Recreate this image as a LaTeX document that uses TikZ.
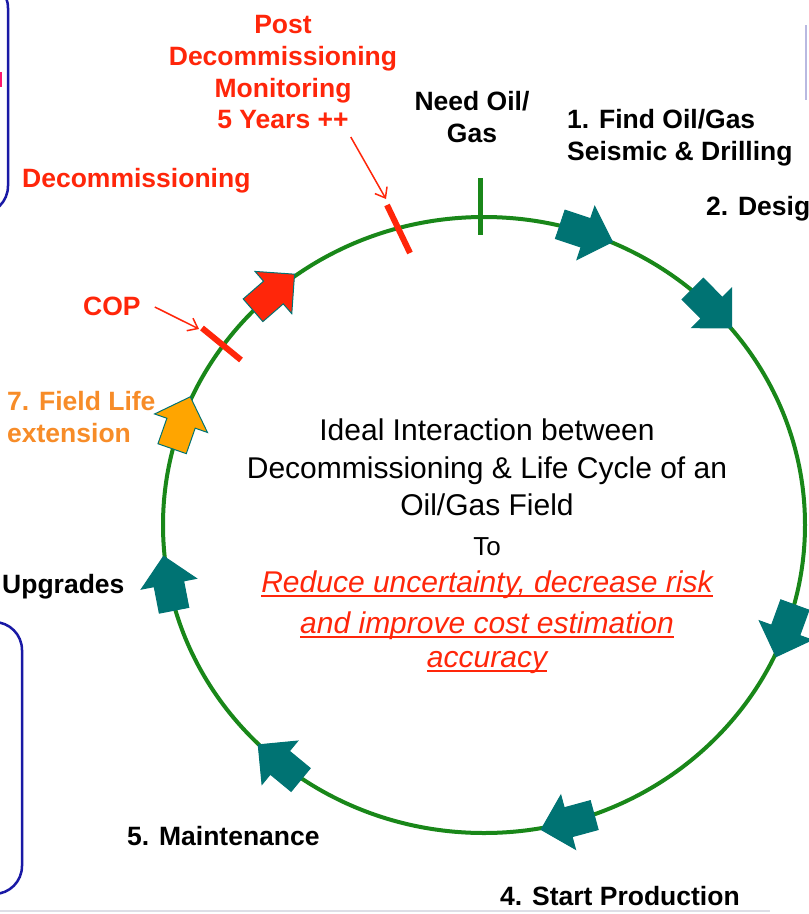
\documentclass[tikz,border=0pt]{standalone}
\usepackage{fontspec}
\setmainfont{Liberation Sans}
\usetikzlibrary{arrows.meta}
\definecolor{tealarr}{RGB}{0,115,115}
\definecolor{ringgreen}{RGB}{25,135,25}
\definecolor{hotred}{RGB}{255,38,10}
\definecolor{orangetxt}{RGB}{247,140,40}
\definecolor{orangefill}{RGB}{255,165,0}
\definecolor{navyline}{RGB}{25,25,165}
\definecolor{faintblue}{RGB}{185,185,225}
\definecolor{faintgray}{RGB}{222,222,230}
% #1 name, #2 parametric angle on the ring, #3 extra style
\newcommand\ringarrow[3]{%
  \path (C) ++(#2:321 and 308) coordinate (#1);
  \begin{scope}[shift={(#1)}, rotate=#2-90]
    \path[ringarr,#3] (-27,-15) -- (0,-15) -- (0,-28) -- (28,0) -- (0,28) -- (0,15) -- (-27,15) -- cycle;
  \end{scope}}
\begin{document}
\begin{tikzpicture}[x=1pt,y=1pt,
  lbl/.style={font=\fontsize{26.5}{32}\selectfont\bfseries, inner sep=0pt, anchor=base},
  lblw/.style={lbl, anchor=base west},
  mid/.style={font=\fontsize{30}{36}\selectfont, inner sep=0pt, anchor=base},
  goal/.style={font=\fontsize{30}{36}\selectfont\itshape, text=hotred, inner sep=0pt, anchor=base},
  uline/.style={draw=hotred, line width=1.8pt},
  ringarr/.style={fill=tealarr, draw=tealarr, line width=1pt, line join=miter},
  ptr/.style={draw=hotred, line width=1.5pt, -{Straight Barb[length=9pt,width=14pt]}},
  tickline/.style={line width=5pt},
  navybox/.style={draw=navyline, line width=2.5pt, rounded corners=28pt}]
\useasboundingbox (0,0) rectangle (809,-914);
\clip (0,0) rectangle (809,-914);
\fill[white] (0,0) rectangle (809,-914);
% partial boxes at the edges
\draw[navybox] (-60,20) rectangle (8,-214);
\draw[navybox] (-60,-622) rectangle (22,-894);
\draw[faintblue, line width=2pt] (806,-25) -- (806,-100);
\draw[faintgray, line width=2pt] (0,-911) -- (770,-911);
\fill[hotred!60!magenta] (0,-72) rectangle (2,-87);
% ring
\coordinate (C) at (484,-525);
\draw[ringgreen, line width=4pt] (C) ellipse [x radius=321, y radius=308];
% ticks
\coordinate (needA) at (480,-178);
\coordinate (needB) at (480,-235);
\draw[tickline, ringgreen] (needA) -- (needB);
\coordinate (postA) at (387,-205);
\coordinate (postB) at (410,-253);
\draw[tickline, hotred, line width=6pt] (postA) -- (postB);
\coordinate (copA) at (202,-328);
\coordinate (copB) at (241,-360);
\draw[tickline, hotred, line width=6pt] (copA) -- (copB);
% arrows on the ring
\ringarrow{a1}{71.5}{}
\ringarrow{a2}{44.8}{}
\ringarrow{a3}{-20}{}
\ringarrow{a4}{-74.8}{}
\ringarrow{a5}{-129.5}{}
\ringarrow{a6}{-169}{}
\ringarrow{a7}{160.7}{fill=orangefill}
\ringarrow{a8}{131}{fill=hotred}
% labels
\node[lbl, text=hotred] (post1) at (283,-33) {Post};
\node[lbl, text=hotred] (post2) at (283,-65) {Decommissioning};
\node[lbl, text=hotred] (post3) at (283,-97) {Monitoring};
\node[lbl, text=hotred] (yrs) at (283,-128) {5 Years ++};
\node[lblw, text=hotred] (decom) at (22,-187) {Decommissioning};
\node[lbl] (need1) at (472,-110) {Need Oil/};
\node[lbl] (need2) at (472,-142) {Gas};
\node[lblw] (find1) at (567,-128) {1. Find Oil/Gas};
\node[lblw] (find2) at (567,-160) {Seismic \& Drilling};
\node[lblw] (design) at (706,-215) {2. Desig};
\node[lblw, text=hotred] (cop) at (83,-315) {COP};
\node[lblw, text=orangetxt] (field1) at (7,-410) {7. Field Life};
\node[lblw, text=orangetxt] (field2) at (7,-442) {extension};
\node[lblw] (upg) at (2,-593) {Upgrades};
\node[lblw] (maint) at (127,-845) {5. Maintenance};
\node[lblw] (start) at (500,-905) {4. Start Production};
% pointers
\coordinate (postTip) at (386,-199);
\coordinate (copTip) at (199,-329);
\draw[ptr] ([xshift=2pt,yshift=-9pt]yrs.base east) -- (postTip);
\draw[ptr] ([xshift=14pt,yshift=8pt]cop.base east) -- (copTip);
% centre text
\node[mid] (c1) at (487,-440) {Ideal Interaction between};
\node[mid] (c2) at (487,-478) {Decommissioning \& Life Cycle of an};
\node[mid] (c3) at (487,-515) {Oil/Gas Field};
\node[mid, font=\fontsize{26}{31}\selectfont] (c4) at (487,-555) {To};
\node[goal] (g1) at (487,-592) {Reduce uncertainty, decrease risk};
\node[goal] (g2) at (487,-633) {and improve cost estimation};
\node[goal] (g3) at (487,-667) {accuracy};
\draw[uline] ([yshift=-4pt]g1.base west) -- ([yshift=-4pt]g1.base east);
\draw[uline] ([yshift=-4pt]g2.base west) -- ([yshift=-4pt]g2.base east);
\draw[uline] ([yshift=-4pt]g3.base west) -- ([yshift=-4pt]g3.base east);
\end{tikzpicture}
\end{document}
